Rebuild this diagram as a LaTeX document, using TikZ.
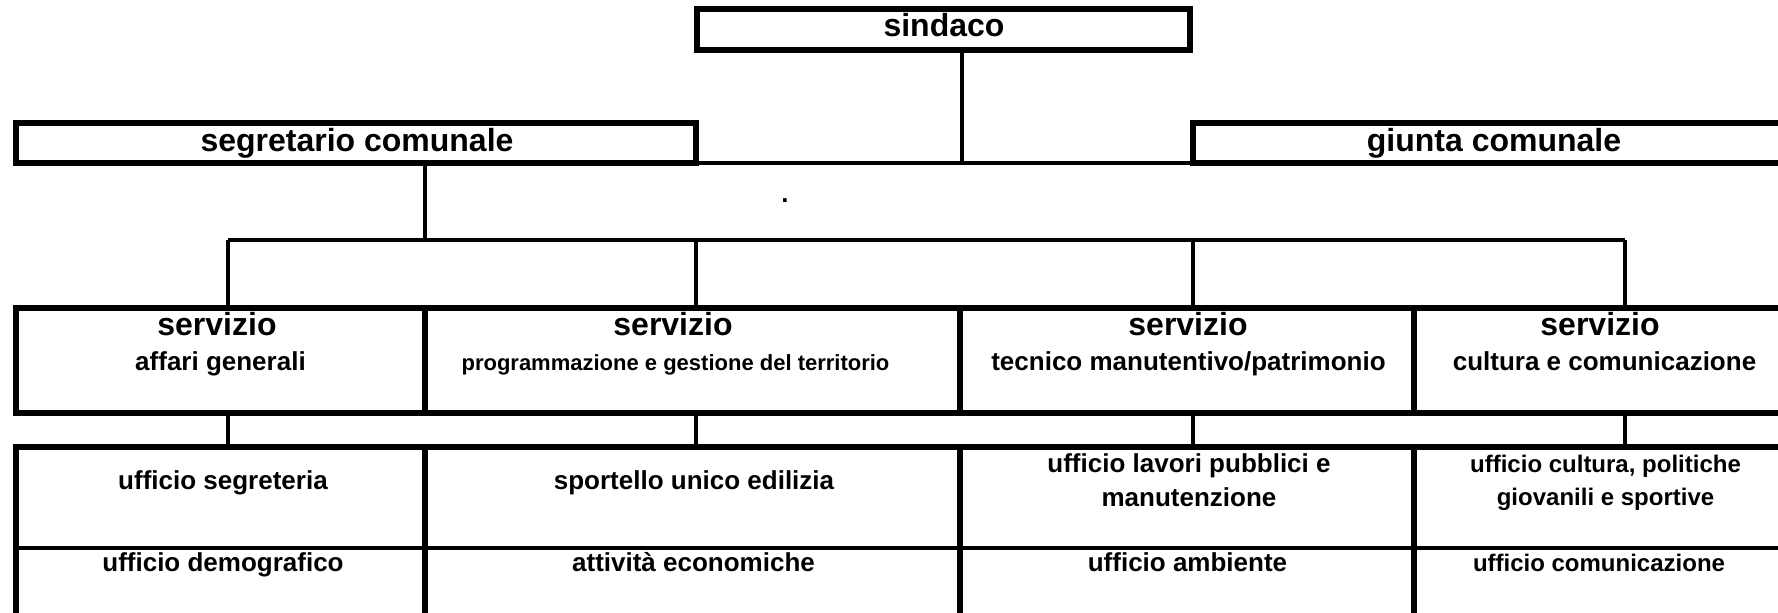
\documentclass[tikz,border=0pt]{standalone}
\usepackage{fontspec}
\setmainfont{Liberation Sans}
\begin{document}
\begin{tikzpicture}[x=0.5pt,y=-0.5pt,
  thickbox/.style={draw, rectangle, line width=3pt, inner sep=0pt, outer sep=0pt},
  thinbox/.style={draw, rectangle, line width=1.6pt, inner sep=0pt, outer sep=0pt},
  thickline/.style={line width=3pt},
  conn/.style={line width=1.6pt},
  big/.style={font=\fontsize{16}{19}\selectfont\bfseries, inner sep=0pt, anchor=base},
  med/.style={font=\fontsize{13}{17}\selectfont\bfseries, inner sep=0pt, anchor=base, align=center},
  medsm/.style={font=\fontsize{11}{14}\selectfont\bfseries, inner sep=0pt, anchor=base},
  medcu/.style={font=\fontsize{12}{16.5}\selectfont\bfseries, inner sep=0pt, anchor=base, align=center}]
\useasboundingbox (0,0) rectangle (1778,613);
\clip (0,0) rectangle (1778,613);
\fill[white] (0,0) rectangle (1778,613);

% top boxes
\node[thickbox, minimum width=246.5pt, minimum height=20.3pt] (sindaco) at (943.5,29.4) {};
\node[thickbox, minimum width=340pt, minimum height=20pt] (segretario) at (356,143) {};
\node[thickbox, minimum width=303.5pt, minimum height=20pt] (giunta) at (1496.5,143) {};
\node[big] (tsindaco) at (944,37) {sindaco};
\node[big] (tsegretario) at (357,152) {segretario comunale};
\node[big] (tgiunta) at (1494,152) {giunta comunale};
\node[font=\fontsize{13}{17}\selectfont\bfseries, inner sep=0pt, anchor=base] (dot) at (785,203) {.};

% servizio row
\node[thickbox, minimum width=204.5pt, minimum height=52.5pt] (s1) at (220.5,360.5) {};
\node[thickbox, minimum width=267.5pt, minimum height=52.5pt] (s2) at (692.5,360.5) {};
\node[thickbox, minimum width=227pt, minimum height=52.5pt] (s3) at (1187,360.5) {};
\node[thickbox, minimum width=193pt, minimum height=52.5pt] (s4) at (1607,360.5) {};

% office rows
\node[thinbox, minimum width=204.5pt, minimum height=50.5pt] (b1) at (220.5,497.5) {};
\node[thinbox, minimum width=267.5pt, minimum height=50.5pt] (b2) at (692.5,497.5) {};
\node[thinbox, minimum width=227pt, minimum height=50.5pt] (b3) at (1187,497.5) {};
\node[thinbox, minimum width=193pt, minimum height=50.5pt] (b4) at (1607,497.5) {};
\node[thinbox, minimum width=204.5pt, minimum height=76pt] (c1) at (220.5,624) {};
\node[thinbox, minimum width=267.5pt, minimum height=76pt] (c2) at (692.5,624) {};
\node[thinbox, minimum width=227pt, minimum height=76pt] (c3) at (1187,624) {};
\node[thinbox, minimum width=193pt, minimum height=76pt] (c4) at (1607,624) {};
\draw[thickline] (c1.south west) -- (b1.north west) -- (b4.north east);
\draw[thickline] (b2.north west) -- (c2.south west);
\draw[thickline] (b3.north west) -- (c3.south west);
\draw[thickline] (b4.north west) -- (c4.south west);
\draw[thickline] (b4.north east) -- (c4.south east);

% connectors
\coordinate (sj) at (962,163);
\draw[conn] (sindaco.south -| sj) -- (sj);
\draw[conn] (segretario.south east) -- (giunta.south west);
\coordinate (bus) at (425,240);
\draw[conn] (segretario.south -| bus) -- (bus);
\coordinate (d1) at (228,240);
\coordinate (d2) at (696,240);
\coordinate (d3) at (1193,240);
\coordinate (d4) at (1625,240);
\draw[conn] (d1) -- (d4);
\draw[conn] (d1) -- (d1 |- s1.north);
\draw[conn] (d2) -- (d2 |- s2.north);
\draw[conn] (d3) -- (d3 |- s3.north);
\draw[conn] (d4) -- (d4 |- s4.north);
\draw[conn] (d1 |- s1.south) -- (d1 |- b1.north);
\draw[conn] (d2 |- s2.south) -- (d2 |- b2.north);
\draw[conn] (d3 |- s3.south) -- (d3 |- b3.north);
\draw[conn] (d4 |- s4.south) -- (d4 |- b4.north);

% servizio texts
\node[big] (ts1) at (217,336) {servizio};
\node[med] (ts1b) at (220.5,371) {affari generali};
\node[big] (ts2) at (673,336) {servizio};
\node[medsm] (ts2b) at (675.5,371) {programmazione e gestione del territorio};
\node[big] (ts3) at (1188,336) {servizio};
\node[med] (ts3b) at (1188.5,371) {tecnico manutentivo/patrimonio};
\node[big] (ts4) at (1600,336) {servizio};
\node[med] (ts4b) at (1604.5,371) {cultura e comunicazione};

% office texts
\node[med] (tb1) at (223,490) {ufficio segreteria};
\node[med] (tb2) at (694,490) {sportello unico edilizia};
\node[med] (tb3) at (1189,473) {ufficio lavori pubblici e};
\node[med] (tb3b) at (1189,507) {manutenzione};
\node[medcu] (tb4) at (1605.5,473) {ufficio cultura, politiche};
\node[medcu] (tb4b) at (1605.5,506) {giovanili e sportive};
\node[med] (tc1) at (223,572) {ufficio demografico};
\node[med] (tc2) at (693.5,572) {attività economiche};
\node[med] (tc3) at (1187.5,572) {ufficio ambiente};
\node[medcu] (tc4) at (1599,572) {ufficio comunicazione};
\end{tikzpicture}
\end{document}
